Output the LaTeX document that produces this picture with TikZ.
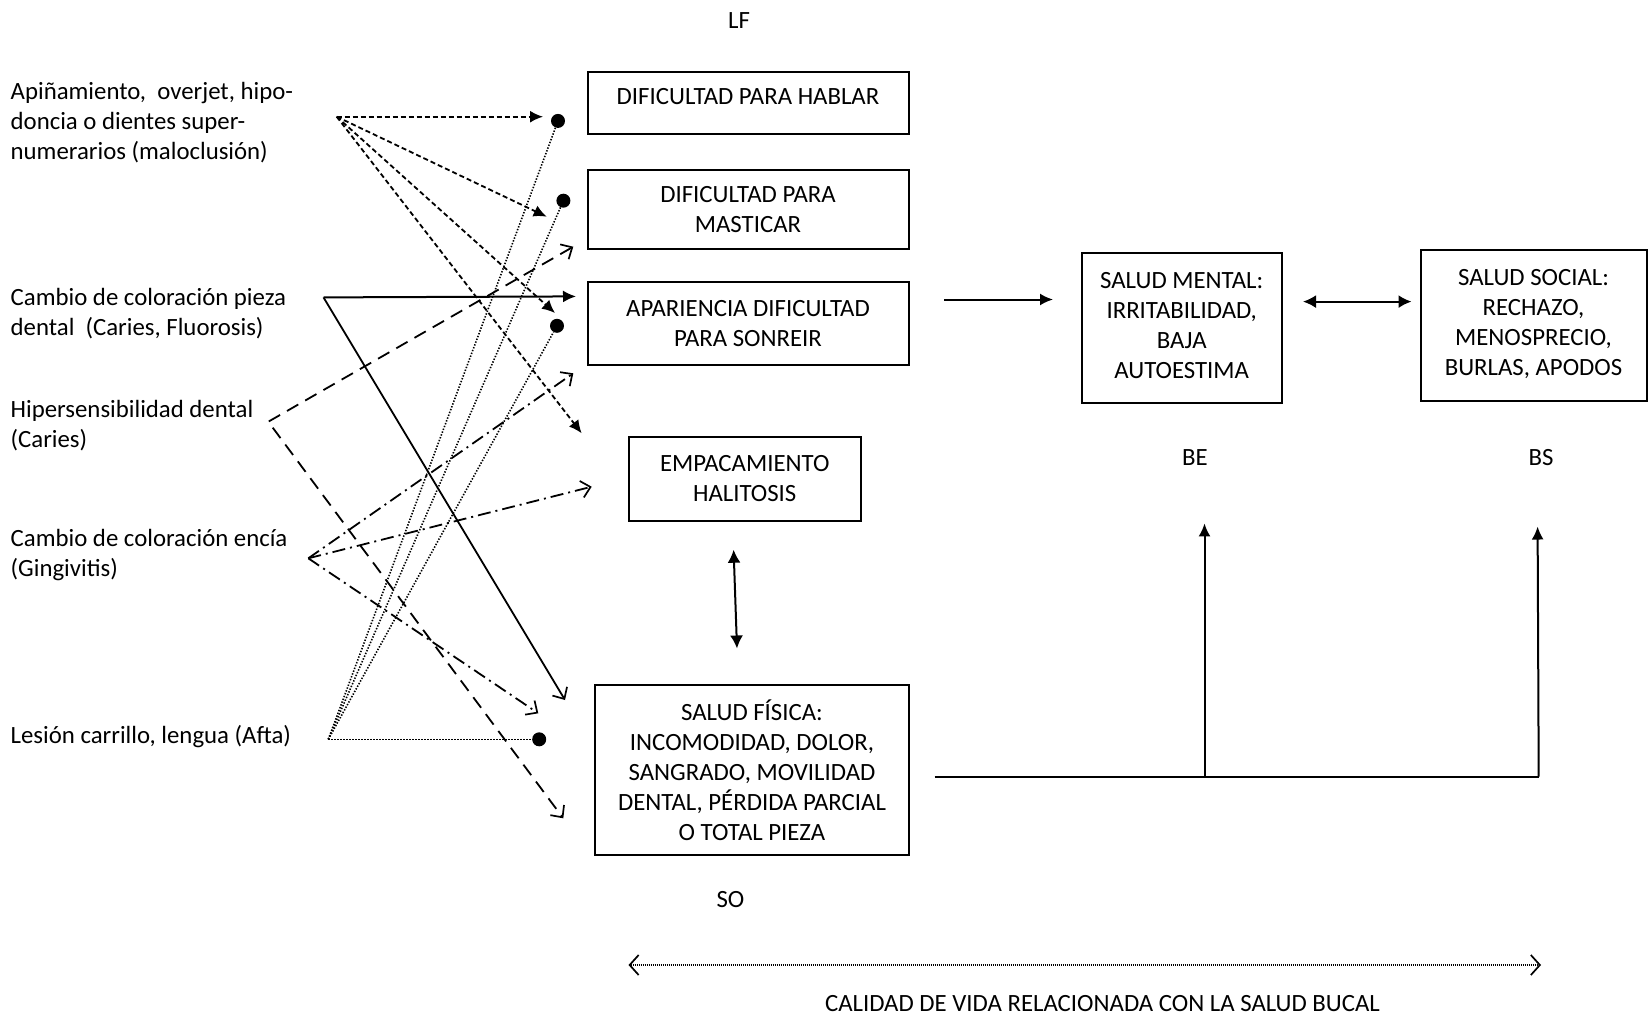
\documentclass[tikz,border=0pt]{standalone}
\usepackage{fontspec}
\setmainfont{Carlito}
\usetikzlibrary{arrows.meta, positioning}

\tikzset{
  caja/.style={draw, line width=2pt, align=center, inner sep=2pt},
  causa/.style={align=left, anchor=west, inner sep=0pt},
  punto/.style={circle, fill, inner sep=0pt, minimum size=14pt},
  flecha/.style={line width=2pt, -{Latex[length=13pt,width=12pt]}},
  doble/.style={line width=2pt, {Latex[length=13pt,width=13pt]}-{Latex[length=13pt,width=13pt]}},
  abierta/.style={-{Straight Barb[length=9pt,width=17pt,line width=1.7pt]}},
  corto/.style={line width=1.8pt, dash pattern=on 5pt off 3pt, -{Latex[length=13pt,width=12pt]}},
  largo/.style={line width=1.8pt, dash pattern=on 13pt off 8pt},
  punteado/.style={line width=1.8pt, dash pattern=on 13pt off 5pt on 2pt off 5pt},
  fino/.style={line width=1.6pt, dash pattern=on 1.4pt off 1.6pt}
}

\begin{document}
\begin{tikzpicture}[x=1pt, y=-1pt, every node/.style={font=\fontsize{24.8}{30}\selectfont}]
  \useasboundingbox (0,0) rectangle (1648,1018);

  % causas
  \node[causa] (maloc) at (10.5,123) {Apiñamiento,~ overjet, hipo-\\doncia o dientes super-\\numerarios (maloclusión)};
  \node[causa] (pieza) at (10.5,314) {Cambio de coloración pieza\\dental~ (Caries, Fluorosis)};
  \node[causa] (hiper) at (10.5,425.5) {Hipersensibilidad dental\\(Caries)};
  \node[causa] (encia) at (10.5,555) {Cambio de coloración encía\\(Gingivitis)};
  \node[causa] (lesion) at (10.5,737) {Lesión carrillo, lengua (Afta)};

  % limitaciones y salud
  \node[caja, minimum width=321pt, minimum height=62pt, text depth=13pt] (hablar) at (748,102.5) {DIFICULTAD PARA HABLAR};
  \node[caja, minimum width=321pt, minimum height=79pt] (masticar) at (748,209.5) {DIFICULTAD PARA\\MASTICAR};
  \node[caja, minimum width=321pt, minimum height=83pt] (sonreir) at (748,323.5) {APARIENCIA DIFICULTAD\\PARA SONREIR};
  \node[caja, minimum width=232pt, minimum height=84pt] (empaca) at (744.7,479) {EMPACAMIENTO\\HALITOSIS};
  \node[caja, minimum width=314pt, minimum height=170pt] (fisica) at (752,770) {SALUD FÍSICA:\\INCOMODIDAD, DOLOR,\\SANGRADO, MOVILIDAD\\DENTAL, PÉRDIDA PARCIAL\\O TOTAL PIEZA};
  \node[caja, minimum width=200pt, minimum height=150pt, text depth=6pt] (mental) at (1181.7,328.3) {SALUD MENTAL:\\IRRITABILIDAD,\\BAJA\\AUTOESTIMA};
  \node[caja, minimum width=226pt, minimum height=151pt, text depth=7pt] (social) at (1533.5,325.7) {SALUD SOCIAL:\\RECHAZO,\\MENOSPRECIO,\\BURLAS, APODOS};

  % etiquetas
  \node (lf) at (739,21) {LF};
  \node (be) at (1195,458) {BE};
  \node (bs) at (1541,458) {BS};
  \node (so) at (730.5,900) {SO};
  \node (calidad) at (1102.5,1004) {CALIDAD DE VIDA RELACIONADA CON LA SALUD BUCAL};

  % puntos
  \node[punto] (d1) at (558,120.9) {};
  \node[punto] (d2) at (563.4,200.7) {};
  \node[punto] (d3) at (557,325.8) {};
  \node[punto] (d4) at (539.2,739.3) {};

  % vertices y puntas
  \coordinate (aMal) at (336.7,116.7);
  \coordinate (aPie) at (323.5,297.4);
  \coordinate (aHip) at (268.3,421.7);
  \coordinate (aEnc) at (308.3,558.3);
  \coordinate (aLes) at (328.3,739.3);
  \coordinate (m1) at (543,116.7);
  \coordinate (m2) at (546.7,216.7);
  \coordinate (m3) at (555,313);
  \coordinate (m4) at (581.7,433.3);
  \coordinate (p1) at (576,296.4);
  \coordinate (p2) at (565,700);
  \coordinate (h1) at (573.3,246.7);
  \coordinate (h2) at (563.3,818.3);
  \coordinate (e1) at (573.3,373.3);
  \coordinate (e2) at (591.7,486.7);
  \coordinate (e3) at (538.3,713.3);

  % maloclusion
  \foreach \t in {m1,m2,m3,m4} {
    \draw[corto] (aMal) -- (\t);
  }
  % pieza dental
  \draw[flecha] (aPie) -- (p1);
  \draw[line width=1.8pt, abierta] (aPie) -- (p2);
  % hipersensibilidad
  \draw[largo, {Straight Barb[length=9pt,width=17pt,line width=1.7pt]}-{Straight Barb[length=9pt,width=17pt,line width=1.7pt]}] (h1) -- (aHip) -- (h2);
  % encia
  \foreach \t in {e1,e2,e3} {
    \draw[punteado, abierta] (aEnc) -- (\t);
  }
  % lesion
  \foreach \t in {d1,d2,d3,d4} {
    \draw[fino] (aLes) -- (\t);
  }

  % lado derecho
  \coordinate (r1) at (944,299.5);
  \coordinate (r2) at (1053,299.5);
  \coordinate (s1) at (1303,301.6);
  \coordinate (s2) at (1411.5,301.6);
  \coordinate (v1) at (733.6,549.7);
  \coordinate (v2) at (737,648.5);
  \coordinate (b0) at (934.5,776.7);
  \coordinate (b1) at (1204.5,776.7);
  \coordinate (b2) at (1538.7,776.7);
  \coordinate (u1) at (1204.5,523.4);
  \coordinate (u2) at (1537.6,526.5);
  \coordinate (c1) at (628.5,965);
  \coordinate (c2) at (1541,965);

  \draw[flecha] (r1) -- (r2);
  \draw[doble] (s1) -- (s2);
  \draw[doble] (v1) -- (v2);
  \draw[line width=2.2pt] (b0) -- (b2);
  \draw[flecha] (b1) -- (u1);
  \draw[flecha] (b2) -- (u2);
  \draw[line width=1.4pt, dash pattern=on 1pt off 1pt, {Straight Barb[length=9pt,width=20pt,line width=1.7pt]}-{Straight Barb[length=9pt,width=20pt,line width=1.7pt]}] (c1) -- (c2);
\end{tikzpicture}
\end{document}
